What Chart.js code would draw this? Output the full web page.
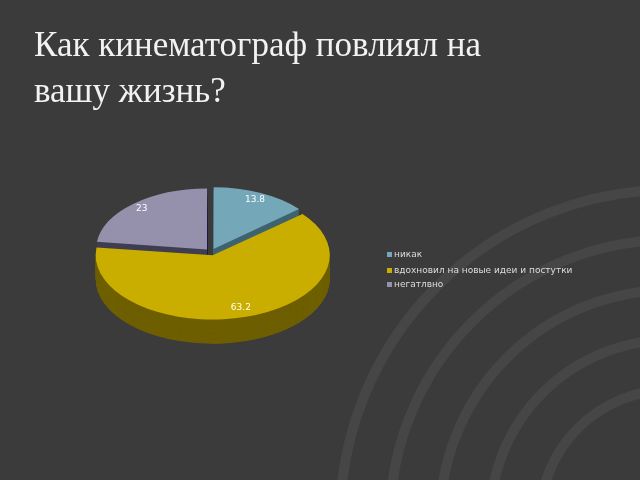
<!DOCTYPE html>
<html>
<head>
<meta charset="utf-8">
<script src="https://cdn.jsdelivr.net/npm/chart.js@4/dist/chart.umd.min.js"></script>
<style>
  html, body { margin: 0; padding: 0; background: #3b3b3b; }
  #wrap { position: relative; width: 640px; height: 480px; }
  h1 { position: absolute; left: 34px; top: 22px; margin: 0; font: 35px "Liberation Serif", serif;
       color: #f2f2f2; line-height: 46px; font-weight: normal; z-index: 2; }
  canvas { position: absolute; left: 0; top: 0; }
</style>
</head>
<body>
<div id="wrap">
  <h1>Как кинематограф повлиял на<br>вашу жизнь?</h1>
  <canvas id="pie" width="640" height="480"></canvas>
</div>
<script>
const labels = ['никак', 'вдохновил на новые идеи и постутки', 'негатлвно'];
const values = [13.8, 63.2, 23];
const topColors = ['#74a7b7', '#c9ae00', '#9591ad'];
const sideColors = ['#3f6470', '#6e5f00', '#403e52'];

const squash = 0.55;
const depth = 24;

// faint swirl lines in the background, lower right
const backdrop = {
    id: 'backdrop',
    beforeDraw(chart) {
        const ctx = chart.ctx;
        ctx.save();
        ctx.strokeStyle = 'rgba(255,255,255,0.06)';
        ctx.lineWidth = 10;
        for (let i = 0; i < 5; i++) {
            ctx.beginPath();
            ctx.arc(670, 520, 130 + i * 50, Math.PI, 1.5 * Math.PI);
            ctx.stroke();
        }
        ctx.restore();
    }
};

const tilt = {
    id: 'tilt',
    beforeDatasetsDraw(chart) {
        const ctx = chart.ctx;
        const meta = chart.getDatasetMeta(0);
        const cy = meta.data[0].y;
        ctx.save();
        ctx.translate(0, cy);
        ctx.scale(1, squash);
        ctx.translate(0, -cy);
        // sides
        for (let k = Math.round(depth / squash); k > 0; k--) {
            ctx.save();
            ctx.translate(0, k);
            meta.data.forEach((el, i) => {
                const old = el.options.backgroundColor;
                el.options.backgroundColor = sideColors[i];
                el.draw(ctx);
                el.options.backgroundColor = old;
            });
            ctx.restore();
        }
    },
    afterDatasetsDraw(chart) {
        const ctx = chart.ctx;
        ctx.restore();
        const meta = chart.getDatasetMeta(0);
        ctx.save();
        ctx.fillStyle = '#ffffff';
        ctx.font = '9px "DejaVu Sans", sans-serif';
        ctx.textAlign = 'center';
        ctx.textBaseline = 'middle';
        meta.data.forEach((el, i) => {
            const a = (el.startAngle + el.endAngle) / 2;
            const r = el.outerRadius * 0.8 + 16;
            const x = el.x + Math.cos(a) * r;
            const y = el.y + Math.sin(a) * r * squash;
            ctx.fillText(String(values[i]), x, y);
        });
        // legend
        const ly = [255, 271, 285];
        ctx.textAlign = 'left';
        labels.forEach((t, i) => {
            ctx.fillStyle = topColors[i];
            ctx.fillRect(387, ly[i] - 3, 5, 5);
            ctx.fillStyle = '#dddddd';
            ctx.fillText(t, 394, ly[i]);
        });
        ctx.restore();
    }
};

new Chart(document.getElementById('pie'), {
    type: 'pie',
    data: {
        labels: labels,
        datasets: [{
            data: values,
            backgroundColor: topColors,
            borderWidth: 0,
            offset: 24
        }]
    },
    options: {
        responsive: false,
        animation: false,
        layout: { padding: { left: 88, right: 306, top: 128, bottom: 104 } },
        plugins: { legend: { display: false }, tooltip: { enabled: false } }
    },
    plugins: [backdrop, tilt]
});
</script>
</body>
</html>
